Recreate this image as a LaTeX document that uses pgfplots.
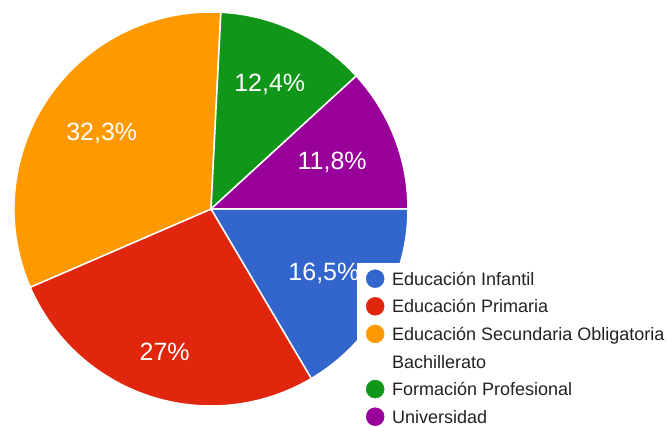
\documentclass[border=0pt]{standalone}
\usepackage{pgfplots}
\usepackage{pgfplotstable}
\pgfplotsset{compat=1.18}
\usepackage{fontspec}
\setmainfont{Liberation Sans}

\definecolor{col0}{HTML}{3366CC}
\definecolor{col1}{HTML}{E0260C}
\definecolor{col2}{HTML}{FF9900}
\definecolor{col3}{HTML}{109618}
\definecolor{col4}{HTML}{990099}
\definecolor{legtext}{HTML}{222222}

% percentages, clockwise from 3 o'clock; lr = label radius
\pgfplotstableread{
p    lr
16.5 130
27   150
32.3 133
12.4 138
11.8 130
}\pietable

\begin{document}
\begin{tikzpicture}
\def\cx{211}\def\cy{217}\def\rad{197}
\def\cum{0}
\pgfplotsforeachungrouped \i in {0,...,4}{%
  \pgfplotstablegetelem{\i}{p}\of\pietable \let\p\pgfplotsretval
  \pgfplotstablegetelem{\i}{lr}\of\pietable \let\lr\pgfplotsretval
  \pgfmathsetmacro\a{-\cum*3.6}%
  \pgfmathsetmacro\b{-(\cum+\p)*3.6}%
  \pgfmathsetmacro\m{(\a+\b)/2}%
  \pgfmathsetmacro\lx{\cx+\lr*cos(\m)}%
  \pgfmathsetmacro\ly{\cy+\lr*sin(\m)}%
  \expandafter\xdef\csname sa\i\endcsname{\a}%
  \expandafter\xdef\csname sb\i\endcsname{\b}%
  \expandafter\xdef\csname lx\i\endcsname{\lx}%
  \expandafter\xdef\csname ly\i\endcsname{\ly}%
  \expandafter\xdef\csname pv\i\endcsname{\p}%
  \pgfmathsetmacro\cum{\cum+\p}%
}
\begin{axis}[
    x=1pt, y=1pt,
    xmin=0, xmax=667, ymin=0, ymax=426,
    at={(0,0)}, anchor=south west,
    hide axis, clip=false,
    legend style={
        at={(axis cs:357,163)}, anchor=north west,
        draw=none, fill=white, inner sep=9pt,
        font=\fontsize{18}{21}\selectfont\color{legtext},
        row sep=14.6pt,
        nodes={inner sep=0pt, text height=13pt, text depth=0pt},
        cells={anchor=west},
    },
    legend image code/.code={%
        \fill[#1, overlay] (0pt,0pt) circle[radius=9pt];
        \path[draw=none, fill=none] (-9pt,-5pt) rectangle (17pt,5pt);
    },
]
\pgfplotsinvokeforeach{0,...,4}{
  \fill[col#1, draw=white, line width=1.5pt]
    (axis cs:\cx,\cy) -- ++(\csname sa#1\endcsname:\rad pt)
    arc[start angle=\csname sa#1\endcsname, end angle=\csname sb#1\endcsname, radius=\rad pt]
    -- cycle;
}
\pgfplotsinvokeforeach{0,...,4}{
  \node[text=white, font=\fontsize{25}{30}\selectfont]
    at (axis cs:\csname lx#1\endcsname,\csname ly#1\endcsname)
    {\pgfmathprintnumber[use comma, assume math mode=true]{\csname pv#1\endcsname}\%};
}
\addlegendimage{col0}\addlegendentry{Educación Infantil}
\addlegendimage{col1}\addlegendentry{Educación Primaria}
\addlegendimage{col2}\addlegendentry{Educación Secundaria Obligatoria}
\addlegendimage{empty legend}\addlegendentry{Bachillerato}
\addlegendimage{col3}\addlegendentry{Formación Profesional}
\addlegendimage{col4}\addlegendentry{Universidad}
\end{axis}
\pgfresetboundingbox
\path (0,0) rectangle (667pt,426pt);
\end{tikzpicture}
\end{document}
